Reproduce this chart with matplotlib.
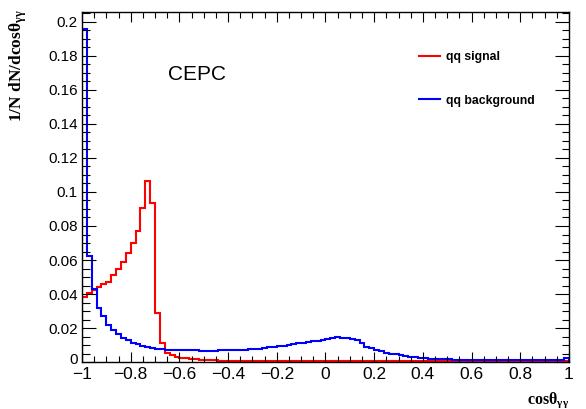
import matplotlib
matplotlib.use("Agg")
import matplotlib.pyplot as plt
import matplotlib.transforms as mtransforms
import numpy as np

# 100 bins of cos(theta_gamma gamma) from -1 to 1, normalised to unit sum
bin_edges = np.linspace(-1, 1, 101)

signal = [
    0.0384, 0.0408, 0.0424, 0.0443, 0.0457, 0.0473, 0.0512, 0.0547, 0.0590, 0.0639,
    0.0702, 0.0771, 0.0908, 0.1065, 0.0933, 0.0286, 0.0110, 0.0055, 0.0040, 0.0030,
    0.0024, 0.0021, 0.0018, 0.0015, 0.0013, 0.0011, 0.0010, 0.0009, 0.0008, 0.0008,
    0.0007, 0.0007, 0.0007, 0.0006, 0.0006, 0.0006, 0.0006, 0.0006, 0.0005, 0.0005,
    0.0005, 0.0005, 0.0005, 0.0004, 0.0005, 0.0004, 0.0004, 0.0005, 0.0004, 0.0004,
    0.0004, 0.0004, 0.0004, 0.0004, 0.0004, 0.0004, 0.0004, 0.0004, 0.0004, 0.0004,
    0.0004, 0.0004, 0.0004, 0.0004, 0.0004, 0.0004, 0.0004, 0.0004, 0.0004, 0.0004,
    0.0004, 0.0004, 0.0004, 0.0004, 0.0004, 0.0004, 0.0004, 0.0004, 0.0004, 0.0004,
    0.0004, 0.0004, 0.0004, 0.0004, 0.0004, 0.0004, 0.0004, 0.0004, 0.0004, 0.0004,
    0.0004, 0.0004, 0.0004, 0.0004, 0.0004, 0.0004, 0.0004, 0.0004, 0.0004, 0.0005,
]

background = [
    0.1960, 0.0624, 0.0428, 0.0316, 0.0270, 0.0218, 0.0188, 0.0163, 0.0139, 0.0129,
    0.0114, 0.0104, 0.0094, 0.0086, 0.0080, 0.0076, 0.0074, 0.0072, 0.0071, 0.0070,
    0.0070, 0.0069, 0.0069, 0.0068, 0.0064, 0.0062, 0.0063, 0.0066, 0.0068, 0.0069,
    0.0070, 0.0071, 0.0072, 0.0073, 0.0075, 0.0077, 0.0079, 0.0082, 0.0086, 0.0089,
    0.0093, 0.0097, 0.0101, 0.0105, 0.0109, 0.0113, 0.0118, 0.0122, 0.0126, 0.0130,
    0.0135, 0.0142, 0.0145, 0.0143, 0.0141, 0.0138, 0.0128, 0.0110, 0.0090, 0.0080,
    0.0070, 0.0062, 0.0055, 0.0050, 0.0045, 0.0040, 0.0035, 0.0031, 0.0027, 0.0024,
    0.0022, 0.0020, 0.0018, 0.0017, 0.0016, 0.0015, 0.0014, 0.0014, 0.0013, 0.0013,
    0.0013, 0.0013, 0.0012, 0.0012, 0.0012, 0.0011, 0.0011, 0.0011, 0.0011, 0.0011,
    0.0010, 0.0010, 0.0011, 0.0010, 0.0010, 0.0010, 0.0011, 0.0010, 0.0011, 0.0026,
]

xticks = [-1, -0.8, -0.6, -0.4, -0.2, 0, 0.2, 0.4, 0.6, 0.8, 1]
xtick_labels = ["\u22121", "\u22120.8", "\u22120.6", "\u22120.4", "\u22120.2",
                "0", "0.2", "0.4", "0.6", "0.8", "1"]
yticks = [0, 0.02, 0.04, 0.06, 0.08, 0.1, 0.12, 0.14, 0.16, 0.18, 0.2]
ytick_labels = ["0", "0.02", "0.04", "0.06", "0.08", "0.1",
                "0.12", "0.14", "0.16", "0.18", "0.2"]

plt.rcParams['font.family'] = ['Liberation Sans', 'DejaVu Sans']
plt.rcParams['mathtext.fontset'] = 'custom'
plt.rcParams['mathtext.rm'] = 'Liberation Serif:bold'
plt.rcParams['mathtext.it'] = 'Liberation Serif:bold'
plt.rcParams['mathtext.bf'] = 'Liberation Serif:bold'

fig = plt.figure(figsize=(5.86, 4.09), dpi=100)
ax = fig.add_axes([82 / 586, 1 - 362 / 409, 487 / 586, 350 / 409])

ax.stairs(signal, bin_edges, color='#ff0000', lw=1.5, label='qq signal')
ax.stairs(background, bin_edges, color='#0000ff', lw=1.5, label='qq background')

ax.set_xlim(-1, 1)
ax.set_ylim(0, 350 / 1700)

ax.set_xticks(xticks)
ax.set_xticklabels(xtick_labels, fontsize=12.5)
ax.set_xticks(np.arange(-1, 1.001, 0.05), minor=True)
ax.set_yticks(yticks)
ax.set_yticklabels(ytick_labels, fontsize=11)
ax.set_yticks(np.arange(0, 0.2051, 0.005), minor=True)

ax.tick_params(which='both', direction='in', top=True, right=True, width=0.8)
ax.tick_params(axis='x', which='major', length=7.2, pad=3.5)
ax.tick_params(axis='x', which='minor', length=4)
ax.tick_params(axis='y', which='major', length=10.4, pad=3)
ax.tick_params(axis='y', which='minor', length=5.4)
for s in ax.spines.values():
    s.set_linewidth(1.0)

# nudge the "0" label up a little so it clears the "-1" below it
zero_lbl = ax.get_yticklabels()[0]
zero_lbl.set_transform(zero_lbl.get_transform() +
                       mtransforms.ScaledTranslation(0, 3 / 100, fig.dpi_scale_trans))

ax.set_xlabel("cos\u03b8$_{\\gamma\\gamma}$", loc='right', fontsize=11.5,
              family='Liberation Serif', weight='bold')
ax.xaxis.set_label_coords(1.0, -0.082)
ax.set_ylabel("1/N dN/dcos\u03b8$_{\\gamma\\gamma}$", loc='top', fontsize=12.5,
              family='Liberation Serif', weight='bold')
ax.yaxis.set_label_coords(-0.108, 1.008)

ax.text(-0.647, 0.166, "CEPC", fontsize=15)

ax.legend(loc='upper left', bbox_to_anchor=(0.692, 0.889), frameon=False,
          borderpad=0, borderaxespad=0, handlelength=1.75, handletextpad=0.45,
          labelspacing=2.6, prop={'size': 8.8, 'weight': 'bold'})

fig.savefig("out.png", dpi=100)
